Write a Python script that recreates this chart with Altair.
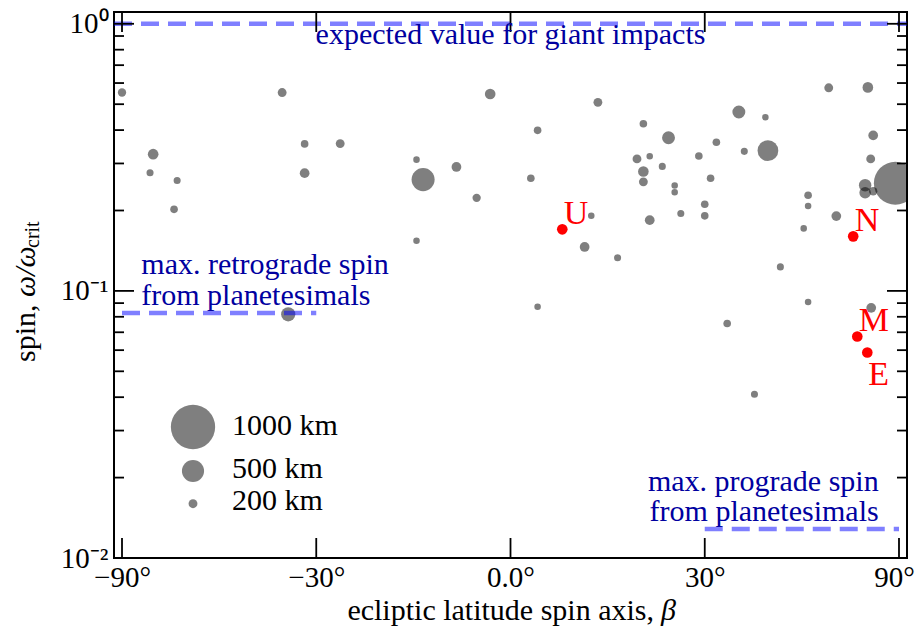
import math
import altair as alt
import pandas as pd

# ---------------- data ----------------
# small bodies: ecliptic latitude of spin axis (deg), spin w/w_crit, diameter (km)
beta_deg = [-90.0, -66.9, -68.1, -59.1, -60.0, -36.0, -32.0, -32.0, -26.0, -34.9,
            -3.0, 13.0, 4.0, -14.0, -8.0, -13.0, 3.0, -5.0, -14.0, 12.0,
            11.0, 16.0, 4.0, 20.0, 19.0, 21.0, 20.0, 20.0, 23.0, 24.0,
            25.0, 25.0, 21.0, 26.0, 29.0, 32.0, 31.0, 30.0, 30.0, 36.0,
            41.0, 37.0, 41.5, 50.0, 50.0, 49.0, 44.0, 50.0, 33.9, 55.0,
            66.9, 69.0, 68.0, 82.1, 65.9, 65.9, 69.0, 57.0, 68.2, 38.9]
spin = [0.553, 0.325, 0.277, 0.259, 0.202, 0.553, 0.355, 0.276, 0.356, 0.0817,
        0.546, 0.508, 0.399, 0.310, 0.291, 0.261, 0.264, 0.223, 0.154, 0.191,
        0.146, 0.133, 0.0872, 0.4225, 0.312, 0.319, 0.280, 0.256, 0.2925, 0.3745,
        0.248, 0.234, 0.184, 0.195, 0.320, 0.360, 0.264, 0.211, 0.191, 0.4675,
        0.447, 0.333, 0.335, 0.228, 0.208, 0.1714, 0.123, 0.0908, 0.0755, 0.576,
        0.578, 0.382, 0.312, 0.253, 0.2486, 0.233, 0.236, 0.1906, 0.0864, 0.041]
diam_km = [188, 240, 160, 160, 172, 200, 172, 220, 200, 320,
           240, 200, 172, 148, 220, 520, 172, 188, 148, 148,
           220, 160, 148, 172, 200, 148, 240, 200, 160, 292,
           148, 148, 220, 160, 172, 172, 172, 172, 172, 292,
           148, 160, 468, 172, 148, 148, 160, 148, 172, 200,
           240, 220, 200, 968, 280, 260, 188, 220, 220, 160]

# planets
planet_names = ["U", "N", "M", "E"]
planet_beta = [7.66, 61.9, 63.2, 66.7]
planet_spin = [0.170, 0.160, 0.0675, 0.0588]

# reference levels
giant_value = 1.0
retro_value = 0.0827
retro_beta = [-90, -30]
pro_value = 0.01285
pro_beta = [30, 90]

# legend
legend_km = [1000, 500, 200]
legend_labels = ["1000 km", "500 km", "200 km"]

# axis ticks
x_tick_deg = [-90, -30, 0, 30, 90]
x_tick_labels = ["\u221290\u00b0", "\u221230\u00b0", "0.0\u00b0", "30\u00b0", "90\u00b0"]
y_major = [0.01, 0.1, 1.0]
y_major_labels = ["10\u207b\u00b2", "10\u207b\u00b9", "10\u2070"]
y_minor = [k * 10.0 ** e for e in (-2, -1) for k in range(2, 10)]

# ---------------- layout / style ----------------
W, H = 793, 546
S_MAX = 1.0206
FONT = "Liberation Serif"
FS = 30
BLUE_TXT = "#0000a0"
SIN = "sin(datum.beta*PI/180)"

xs = alt.Scale(domain=[-S_MAX, S_MAX], nice=False, zero=False)
ys = alt.Scale(type="log", domain=[0.01, 1.107], nice=False)

x_sin = [math.sin(math.radians(d)) for d in x_tick_deg]
x_expr = "'" + x_tick_labels[-1] + "'"
for sv, lab in reversed(list(zip(x_sin[:-1], x_tick_labels[:-1]))):
    x_expr = f"datum.value < {sv + 0.1} ? '{lab}' : " + x_expr
y_expr = (f"datum.value > 0.5 ? '{y_major_labels[2]}' : datum.value > 0.05 ? "
          f"'{y_major_labels[1]}' : '{y_major_labels[0]}'")

xaxis = alt.Axis(values=x_sin, labelExpr=x_expr, title=None, ticks=False, domain=False,
                 grid=False, labelPadding=5, labelFlush=False, labelFontSize=29,
                 labelFont=FONT, labelColor="black",
                 labelOffset={"condition": {"test": "datum.value > 0.9", "value": -5}, "value": 0})
yaxis = alt.Axis(values=y_major, labelExpr=y_expr, title=None, ticks=False, domain=False,
                 grid=False, labelPadding=6, labelFlush=False, labelFontSize=29,
                 labelFont=FONT, labelColor="black")

X = alt.X("s:Q", scale=xs, axis=xaxis)
Y = alt.Y("v:Q", scale=ys, axis=yaxis)
SIZE = alt.Size("D:Q", scale=alt.Scale(type="pow", exponent=2, domain=[0, 1000], range=[0, 1963]),
                legend=None)

pts = pd.DataFrame({"beta": beta_deg, "v": spin, "D": diam_km})
points = alt.Chart(pts).transform_calculate(s=SIN).mark_circle(
    color="black", opacity=0.5, clip=True).encode(x=X, y=Y, size=SIZE)

dash = dict(color="blue", opacity=0.5, strokeWidth=4.5, strokeDash=[18, 9])
segs_df = pd.DataFrame({"beta": [retro_beta[0], pro_beta[0]], "b2": [retro_beta[1], pro_beta[1]],
                        "v": [retro_value, pro_value]})
segs = alt.Chart(segs_df).transform_calculate(s=SIN, s2="sin(datum.b2*PI/180)").mark_rule(
    **dash).encode(x=X, x2="s2:Q", y=Y)
giant = alt.Chart(pd.DataFrame({"v": [giant_value]})).mark_rule(**dash).encode(
    x=alt.value(0), x2=alt.value(W), y=Y)

# inward ticks
tick = dict(color="black", strokeWidth=1.8)
ymaj_df = pd.DataFrame({"v": y_major})
ymin_df = pd.DataFrame({"v": y_minor})
xt_df = pd.DataFrame({"beta": x_tick_deg})
ticks = [
    alt.Chart(ymaj_df).mark_rule(**tick).encode(y=Y, x=alt.value(0), x2=alt.value(20)),
    alt.Chart(ymaj_df).mark_rule(**tick).encode(y=Y, x=alt.value(W), x2=alt.value(W - 20)),
    alt.Chart(ymin_df).mark_rule(**tick).encode(y=Y, x=alt.value(0), x2=alt.value(10)),
    alt.Chart(ymin_df).mark_rule(**tick).encode(y=Y, x=alt.value(W), x2=alt.value(W - 10)),
    alt.Chart(xt_df).transform_calculate(s=SIN).mark_rule(**tick).encode(
        x=X, y=alt.value(H), y2=alt.value(H - 20)),
    alt.Chart(xt_df).transform_calculate(s=SIN).mark_rule(**tick).encode(
        x=X, y=alt.value(0), y2=alt.value(20)),
]


def anno(beta, v, text, **kw):
    df = pd.DataFrame({"beta": [beta], "v": [v], "t": [text]})
    return alt.Chart(df).transform_calculate(s=SIN).mark_text(
        font=FONT, fontSize=FS, color=BLUE_TXT, baseline="alphabetic", **kw).encode(
        x=X, y=Y, text="t:N")


annos = [
    anno(0, giant_value, "expected value for giant impacts", align="center", dy=20.5),
    anno(retro_beta[0], retro_value, "max. retrograde spin", align="left", dx=19.3, dy=-39.3),
    anno(retro_beta[0], retro_value, "from planetesimals", align="left", dx=19.3, dy=-7.7),
    anno(pro_beta[1], pro_value, "max. prograde spin", align="right", dx=-20.3, dy=-38.4),
    anno(pro_beta[1], pro_value, "from planetesimals", align="right", dx=-20.3, dy=-8.4),
]

pl_df = pd.DataFrame({"beta": planet_beta, "v": planet_spin, "t": planet_names})
planets = alt.Chart(pl_df).transform_calculate(s=SIN).mark_circle(
    color="red", opacity=1, size=113).encode(x=X, y=Y)
pl_lab_up = alt.Chart(pl_df).transform_filter("datum.t != 'E'").transform_calculate(s=SIN).mark_text(
    font=FONT, fontSize=34, color="red", align="left", baseline="alphabetic", dx=1.5, dy=-5).encode(
    x=X, y=Y, text="t:N")
pl_lab_dn = alt.Chart(pl_df).transform_filter("datum.t == 'E'").transform_calculate(s=SIN).mark_text(
    font=FONT, fontSize=34, color="red", align="left", baseline="alphabetic", dx=1, dy=33).encode(
    x=X, y=Y, text="t:N")

# size legend (layout positions in pixels)
leg_cy = [415, 459, 491.7]
leg_ty = [422.7, 466, 498.3]
legend = []
for km, lab, cy, ty in zip(legend_km, legend_labels, leg_cy, leg_ty):
    legend.append(alt.Chart(pd.DataFrame({"D": [km]})).mark_circle(color="black", opacity=0.5).encode(
        x=alt.value(79), y=alt.value(cy), size=SIZE))
    legend.append(alt.Chart(pd.DataFrame({"t": [lab]})).mark_text(
        font=FONT, fontSize=FS, color="black", align="left", baseline="alphabetic").encode(
        x=alt.value(118), y=alt.value(ty), text="t:N"))


def label(text, x, y, **kw):
    return alt.Chart(pd.DataFrame({"t": [text]})).mark_text(
        font=FONT, color="black", baseline="alphabetic", **kw).encode(
        x=alt.value(x), y=alt.value(y), text="t:N")


titles = [
    label("ecliptic latitude spin axis,", 540, 608, fontSize=FS, align="right"),
    label("\u03b2", 547, 608, fontSize=FS, align="left", fontStyle="italic"),
    label("spin,", -79, 350, fontSize=FS, align="left", angle=270),
    label("\u03c9/\u03c9", -79, 285, fontSize=FS, align="left", angle=270, fontStyle="italic"),
    label("crit", -75, 236, fontSize=20, align="left", angle=270),
]

chart = alt.layer(
    points, segs, giant, *ticks, *annos, planets, pl_lab_up, pl_lab_dn, *legend, *titles
).properties(
    width=W, height=H,
    autosize=alt.AutoSizeParams(type="none"),
    padding={"left": 106, "top": 4, "right": 8, "bottom": 68},
).configure(
    font=FONT,
    view=alt.ViewConfig(stroke="black", strokeWidth=2),
)

chart.save("out.html", embed_options={"renderer": "svg", "actions": False})
